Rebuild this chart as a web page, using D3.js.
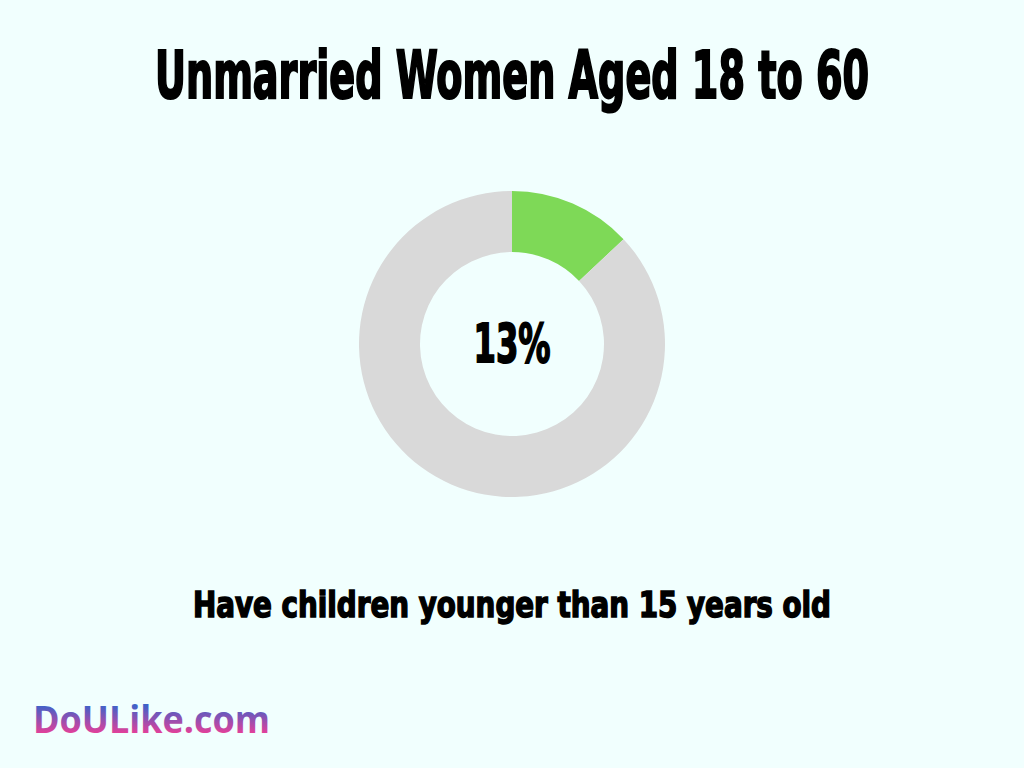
<!DOCTYPE html>
<html>
<head>
<meta charset="utf-8">
<script src="https://cdn.jsdelivr.net/npm/d3@7"></script>
<style>
  html, body { margin: 0; padding: 0; background: #f1fffe; }
  svg { display: block; }
</style>
</head>
<body>
<div id="chart"></div>
<script>
// data
var title = "Unmarried Women Aged 18 to 60";
var caption = "Have children younger than 15 years old";
var categories = ["Have children", "Other"];
var values = [13, 87];
var colors = ["#7ed957", "#d9d9d9"];

var width = 1024,
    height = 768,
    cx = 512, cy = 344,
    outerR = 153,
    innerR = 92;

var condensed = "'Liberation Sans Narrow', 'DejaVu Sans Condensed', 'Arial Narrow', sans-serif";

var svg = d3.select('#chart')
  .append('svg')
  .attr('width', width)
  .attr('height', height);

svg.append('rect')
  .attr('width', width)
  .attr('height', height)
  .attr('fill', '#f1fffe');

// Title
svg.append('text')
  .attr('x', 512)
  .attr('y', 98)
  .attr('text-anchor', 'middle')
  .attr('font-family', condensed)
  .attr('font-weight', 'bold')
  .attr('font-size', 66)
  .attr('textLength', 714)
  .attr('lengthAdjust', 'spacingAndGlyphs')
  .attr('fill', '#000')
  .attr('stroke', '#000')
  .attr('stroke-width', 2.2)
  .text(title);

// Donut
var pie = d3.pie().sort(null).value(function (d) { return d; });
var arc = d3.arc().innerRadius(innerR).outerRadius(outerR);
var color = d3.scaleOrdinal().domain(categories).range(colors);

var g = svg.append('g').attr('transform', 'translate(' + cx + ',' + cy + ')');

g.selectAll('path')
  .data(pie(values))
  .enter()
  .append('path')
    .attr('d', arc)
    .attr('fill', function (d, i) { return color(categories[i]); });

g.append('text')
  .attr('x', 0)
  .attr('y', 18)
  .attr('text-anchor', 'middle')
  .attr('font-family', condensed)
  .attr('font-weight', 'bold')
  .attr('font-size', 53)
  .attr('textLength', 77)
  .attr('lengthAdjust', 'spacingAndGlyphs')
  .attr('fill', '#000')
  .attr('stroke', '#000')
  .attr('stroke-width', 1.8)
  .text(values[0] + '%');

// Caption
svg.append('text')
  .attr('x', 512)
  .attr('y', 617)
  .attr('text-anchor', 'middle')
  .attr('font-family', condensed)
  .attr('font-weight', 'bold')
  .attr('font-size', 36)
  .attr('textLength', 638)
  .attr('lengthAdjust', 'spacingAndGlyphs')
  .attr('fill', '#000')
  .attr('stroke', '#000')
  .attr('stroke-width', 1.5)
  .text(caption);

// Logo
var defs = svg.append('defs');
var grad = defs.append('linearGradient')
  .attr('id', 'logoGrad')
  .attr('gradientUnits', 'userSpaceOnUse')
  .attr('x1', 0).attr('y1', 705)
  .attr('x2', 0).attr('y2', 734);
grad.append('stop').attr('offset', '0%').attr('stop-color', '#3d62c9');
grad.append('stop').attr('offset', '100%').attr('stop-color', '#e83f98');

svg.append('text')
  .attr('x', 33)
  .attr('y', 733)
  .attr('font-family', "'Open Sans', 'Noto Sans', sans-serif")
  .attr('font-weight', 'bold')
  .attr('font-size', 38)
  .attr('textLength', 237)
  .attr('lengthAdjust', 'spacingAndGlyphs')
  .attr('fill', 'url(#logoGrad)')
  .text('DoULike.com');
</script>
</body>
</html>
